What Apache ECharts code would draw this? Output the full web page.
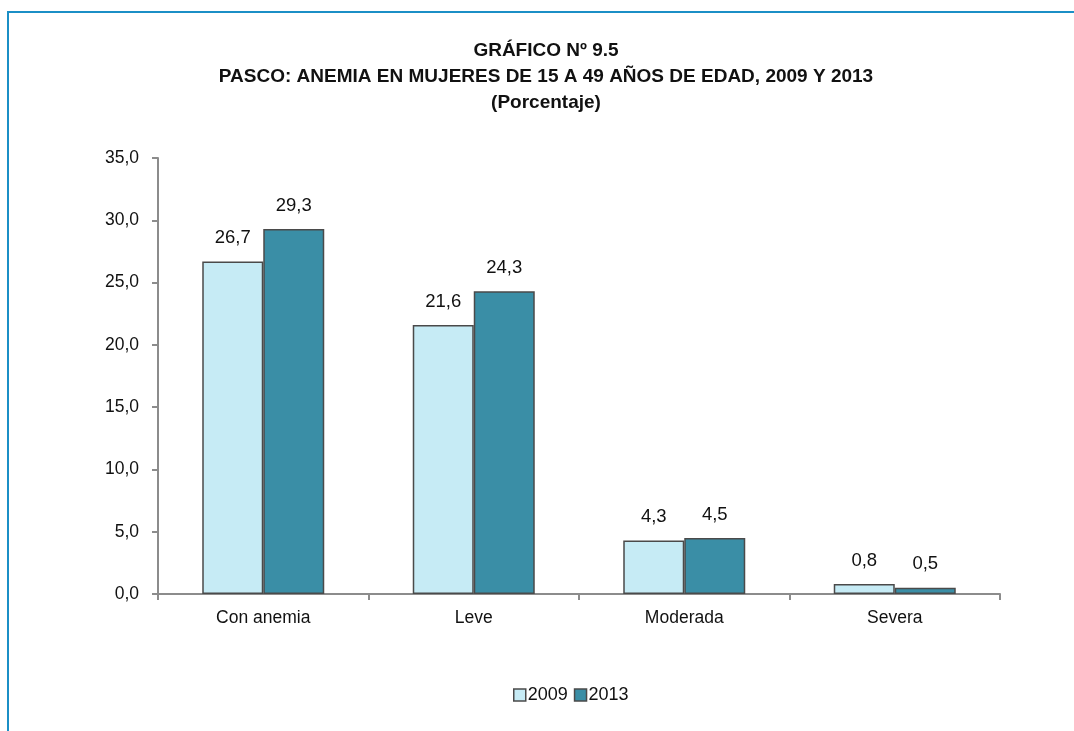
<!DOCTYPE html>
<html>
<head>
<meta charset="utf-8">
<script src="https://cdn.jsdelivr.net/npm/echarts@6/dist/echarts.min.js"></script>
<style>
  html, body { margin: 0; padding: 0; background: #fff; }
  #chart { width: 1074px; height: 731px; }
</style>
</head>
<body>
<div id="chart"></div>
<script>
const categories = ['Con anemia', 'Leve', 'Moderada', 'Severa'];
const years = ['2009', '2013'];
const values2009 = [26.7, 21.6, 4.3, 0.8];
const values2013 = [29.3, 24.3, 4.5, 0.5];
const yTicks = { min: 0, max: 35, interval: 5 };

const FONT = '"Liberation Sans Narrow", "Arial Narrow", "Liberation Sans", Arial, sans-serif';
const fmt = v => v.toFixed(1).replace('.', ',');

const chart = echarts.init(document.getElementById('chart'));

function barSeries(name, data, fill) {
  return {
    name: name,
    type: 'bar',
    data: data,
    barWidth: 61,
    barGap: '0%',
    itemStyle: { color: fill, borderColor: '#4a4a4a', borderWidth: 1.5 },
    label: {
      show: true,
      position: 'top',
      distance: 14,
      color: '#111',
      fontFamily: FONT,
      fontSize: 18.5,
      formatter: p => fmt(p.value)
    }
  };
}

const option = {
  backgroundColor: '#fff',
  animation: false,
  title: {
    text: 'GRÁFICO Nº 9.5\nPASCO: ANEMIA EN MUJERES DE 15 A 49 AÑOS DE EDAD, 2009 Y 2013\n(Porcentaje)',
    left: 541,
    textAlign: 'center',
    top: 33,
    textStyle: {
      fontFamily: FONT,
      fontWeight: 'bold',
      fontSize: 19,
      lineHeight: 26,
      color: '#111'
    }
  },
  legend: {
    data: years,
    top: 681,
    left: 508,
    itemWidth: 12,
    itemHeight: 12,
    itemGap: 6,
    icon: 'rect',
    textStyle: { fontFamily: FONT, fontSize: 18, color: '#111', padding: [0, 0, 0, -3] },
    itemStyle: { borderColor: '#4a4a4a', borderWidth: 1.5 }
  },
  graphic: [{
    type: 'rect',
    shape: { x: 8, y: 12, width: 2000, height: 2000 },
    style: { fill: 'none', stroke: '#1b8fc6', lineWidth: 2 },
    silent: true
  }],
  grid: { left: 158, right: 74, top: 158, bottom: 137 },
  xAxis: {
    type: 'category',
    data: categories,
    axisLine: { lineStyle: { color: '#8c8c8c', width: 2 } },
    axisTick: { show: true, length: 6, lineStyle: { color: '#8c8c8c', width: 2 } },
    axisLabel: { fontFamily: FONT, fontSize: 17.5, color: '#111', margin: 15 }
  },
  yAxis: {
    type: 'value',
    min: yTicks.min,
    max: yTicks.max,
    interval: yTicks.interval,
    axisLine: { show: true, lineStyle: { color: '#8c8c8c', width: 2 } },
    axisTick: { show: true, length: 6, lineStyle: { color: '#8c8c8c', width: 2 } },
    splitLine: { show: false },
    axisLabel: { fontFamily: FONT, fontSize: 17.5, color: '#111', margin: 19, formatter: v => fmt(v) }
  },
  series: [
    barSeries('2009', values2009, '#c6ebf5'),
    barSeries('2013', values2013, '#3a8ea6')
  ]
};

chart.setOption(option);
</script>
</body>
</html>
